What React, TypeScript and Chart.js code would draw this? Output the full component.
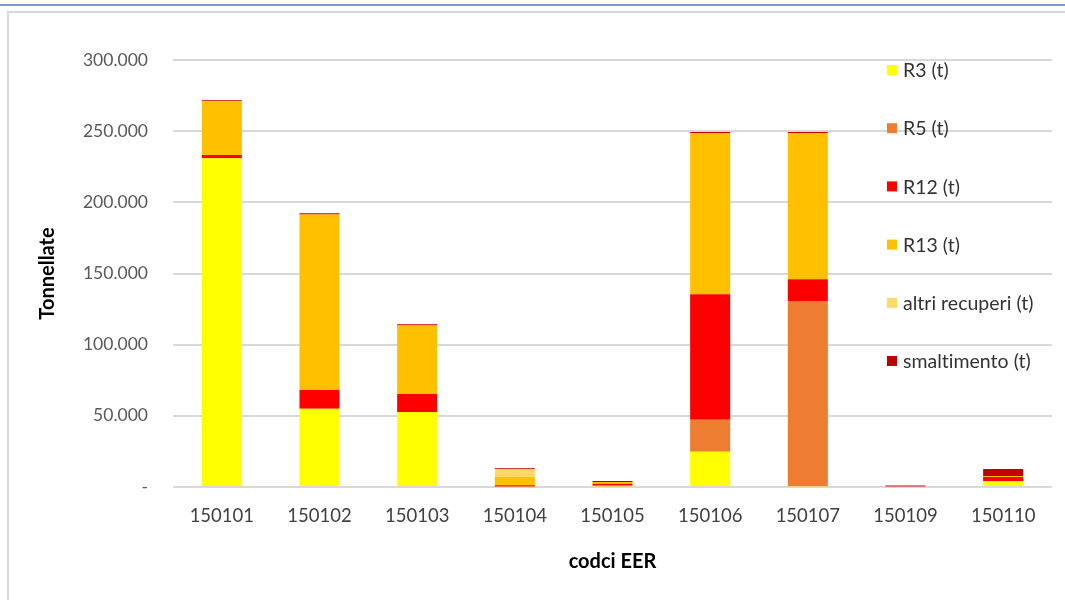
import React, { useEffect, useRef } from "react";
import { Chart, registerables } from "chart.js";

Chart.register(...registerables);

const categories = ["150101", "150102", "150103", "150104", "150105", "150106", "150107", "150109", "150110"];
const r3 = [231000, 55000, 52700, 0, 600, 24800, 500, 0, 4000];
const r5 = [0, 0, 0, 300, 800, 22500, 130100, 0, 0];
const r12 = [2300, 13100, 12600, 1000, 800, 88200, 15400, 600, 3000];
const r13 = [37700, 123300, 48200, 5800, 1400, 113200, 102700, 0, 700];
const altri = [0, 0, 0, 5400, 0, 0, 0, 0, 0];
const smalt = [800, 900, 900, 700, 600, 700, 700, 400, 4900];

const seriesNames = ["R3 (t)", "R5 (t)", "R12 (t)", "R13 (t)", "altri recuperi (t)", "smaltimento (t)"];
const seriesColors = ["#FFFF00", "#ED7D31", "#FF0000", "#FFC000", "#FFD966", "#C00000"];
const yTicks = [0, 50000, 100000, 150000, 200000, 250000, 300000];

const FONT = "Lato, 'Open Sans', sans-serif";

function fmt(v: number): string {
  if (v === 0) return "-";
  return Math.round(v).toString().replace(/\B(?=(\d{3})+(?!\d))/g, ".");
}

const legendPlugin = {
  id: "sideLegend",
  afterDraw(chart: any) {
    const ctx = chart.ctx;
    ctx.save();
    ctx.font = `19.5px ${FONT}`;
    try {
      (ctx as any).letterSpacing = "0.01px";
    } catch (e) {
      /* ignore */
    }
    ctx.textBaseline = "middle";
    ctx.textAlign = "left";
    const startY = 70;
    const gap = 58.2;
    chart.data.datasets.forEach((ds: any, i: number) => {
      const y = startY + i * gap;
      ctx.fillStyle = ds.backgroundColor;
      ctx.fillRect(887, y - 5, 10, 10);
      ctx.fillStyle = "#333333";
      ctx.fillText(ds.label, 903, y + 1);
    });
    ctx.restore();
  },
};

export default function App() {
  const ref = useRef<HTMLCanvasElement | null>(null);

  useEffect(() => {
    if (!ref.current) return;
    const values = [r3, r5, r12, r13, altri, smalt];
    const chart = new Chart(ref.current, {
      type: "bar",
      data: {
        labels: categories,
        datasets: values.map((d, i) => ({
          label: seriesNames[i],
          data: d,
          backgroundColor: seriesColors[i],
          borderWidth: 0,
          barPercentage: 0.41,
          categoryPercentage: 1,
        })),
      },
      options: {
        animation: false,
        responsive: false,
        maintainAspectRatio: false,
        layout: { padding: { left: 0, right: 13, top: 60, bottom: 0 } },
        plugins: { legend: { display: false }, tooltip: { enabled: false }, title: { display: false } },
        scales: {
          x: {
            stacked: true,
            grid: { display: false, drawTicks: false },
            border: { display: false },
            ticks: { color: "#404040", font: { family: FONT, size: 18.5 }, padding: 18, maxRotation: 0 },
            title: {
              display: true,
              text: "codci EER",
              color: "#000000",
              font: { family: FONT, size: 20, weight: "bold" },
              padding: { top: 0, bottom: 26 },
            },
            afterFit(scale: any) {
              scale.height = 113;
            },
          },
          y: {
            stacked: true,
            min: 0,
            max: 300000,
            afterBuildTicks(scale: any) {
              scale.ticks = yTicks.map((v) => ({ value: v }));
            },
            grid: { color: "#d9d9d9", lineWidth: 2, drawTicks: false },
            border: { display: false },
            ticks: {
              color: "#595959",
              font: { family: FONT, size: 17.5 },
              padding: 25,
              callback: (v: any) => fmt(Number(v)),
            },
            title: {
              display: true,
              text: "Tonnellate",
              color: "#000000",
              font: { family: FONT, size: 20, weight: "bold" },
              padding: { top: 36, bottom: 0 },
            },
            afterFit(scale: any) {
              scale.width = 173;
            },
          },
        },
      },
      plugins: [legendPlugin],
    });
    return () => chart.destroy();
  }, []);

  return (
    <div
      style={{
        position: "absolute",
        left: 0,
        top: 0,
        width: 1065,
        height: 600,
        overflow: "hidden",
        background: "#ffffff",
      }}
    >
      <div style={{ position: "absolute", left: 0, top: 4, width: 1065, height: 2, background: "#7f9bc7" }} />
      <div
        style={{
          position: "absolute",
          left: 7,
          top: 11,
          width: 1100,
          height: 650,
          border: "2px solid #d9d9d9",
        }}
      />
      <canvas ref={ref} width={1065} height={600} style={{ position: "absolute", left: 0, top: 0, width: 1065, height: 600 }} />
    </div>
  );
}
